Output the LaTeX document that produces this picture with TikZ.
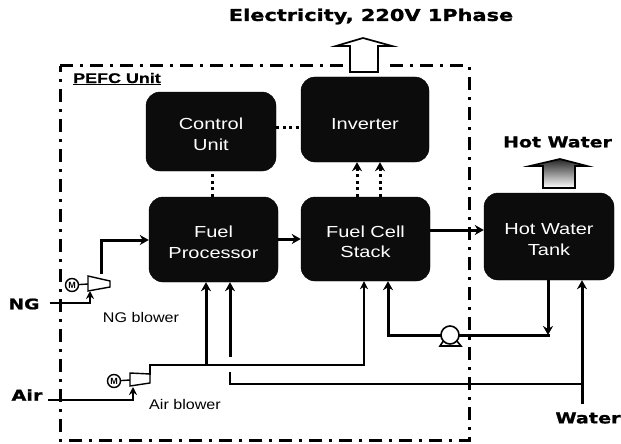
\documentclass[tikz,border=0pt]{standalone}
\usepackage{fontspec}
\setmainfont{Liberation Sans}
\newfontfamily\heavyfont[FakeStretch=1.28,FakeBold=1.2]{DejaVu Sans Bold}
\newfontfamily\pefcfont[FakeStretch=1.28,FakeBold=0.8]{Liberation Sans Bold}
\newfontfamily\boxfont[FakeStretch=1.25]{Liberation Sans}
\newfontfamily\labelfont[FakeStretch=1.15]{Liberation Sans}
\usetikzlibrary{arrows.meta}
\definecolor{boxblack}{HTML}{0C0C0C}
\tikzset{
  unitbox/.style={draw=black,fill=boxblack,rounded corners=14pt,text=white,align=center,inner sep=0pt,text height=38pt,font=\boxfont\fontsize{16}{20.5}\selectfont},
  flow/.style={line width=3pt,-{Stealth[length=9pt,width=10pt]},line join=miter},
  plainflow/.style={line width=3pt},
  thinflow/.style={line width=2.4pt,-{Stealth[length=8pt,width=8pt]}},
  signal/.style={line width=3pt,dash pattern=on 3pt off 3.5pt},
  signalarrow/.style={signal,-{Stealth[length=9pt,width=10pt]}},
  frameline/.style={line width=3pt,dash pattern=on 13pt off 7pt on 3pt off 7pt},
  heavy/.style={font=\heavyfont\fontsize{#1}{#1}\selectfont,inner sep=0pt},
  plain/.style={font=\labelfont\fontsize{14}{16}\selectfont,inner sep=0pt},
  blower/.style={draw=black,line width=1.4pt,fill=white,line join=miter},
  motor/.style={draw=black,line width=1.4pt,circle,fill=white,minimum size=13pt,inner sep=0pt,font=\bfseries\fontsize{9}{9}\selectfont},
  outarrow/.style={draw=black,line width=1.7pt,fill=white,line join=miter},
}
\begin{document}
\begin{tikzpicture}[x=1pt,y=-1pt]
\useasboundingbox (0,0) rectangle (621,444);
% frame
\coordinate (f1) at (60,66); \coordinate (f2) at (469,66);
\coordinate (f3) at (469,440); \coordinate (f4) at (60,440);
\draw[frameline] (f1) -- (f2) -- (f3) -- (f4) -- cycle;
% boxes
\node[unitbox,minimum width=130pt,minimum height=79pt] (control) at (211,131.5) {Control\\Unit};
\node[unitbox,text height=20pt,minimum width=128pt,minimum height=85pt] (inverter) at (365,119.5) {Inverter};
\node[unitbox,minimum width=129pt,minimum height=85pt] (fp) at (213.5,239.5) {Fuel\\Processor};
\node[unitbox,minimum width=129pt,minimum height=84pt] (stack) at (365.5,239) {Fuel Cell\\Stack};
\node[unitbox,minimum width=130pt,minimum height=87pt] (tank) at (549,236.5) {Hot Water\\Tank};
% output arrows
\fill[white] (343,60) rectangle (386,72);
\draw[outarrow] (350,72) -- (350,46) -- (336,46) -- (363,38) -- (392,46) -- (378,46) -- (378,72) -- cycle;
\draw[outarrow,top color=black!85,bottom color=white] (543,188) -- (543,166) -- (530,166) -- (560,159) -- (587,166) -- (575,166) -- (575,188) -- cycle;
% dotted signals
\draw[signal] (fp.north -| 212,0) -- (control.south -| 212,0);
\draw[signal] (control.east |- 0,127) -- (inverter.west |- 0,127);
\draw[signalarrow] (stack.north -| 357,0) -- (inverter.south -| 357,0);
\draw[signalarrow] (stack.north -| 380,0) -- (inverter.south -| 380,0);
% main flows
\draw[flow] (fp.east |- 0,239) -- (stack.west |- 0,239);
\draw[flow] (stack.east |- 0,230) -- (tank.west |- 0,230);
% blowers
\node[motor] (ngm) at (72,285) {M};
\node[motor] (airm) at (114,381) {M};
\coordinate (ngb) at (88,284); \coordinate (airb) at (130,380);
\draw[line width=1.4pt] (ngm) -- (ngb);
\draw[line width=1.4pt] (airm) -- (airb);
\draw[blower] (88,276) -- (110,281) -- (110,287) -- (88,291) -- cycle;
\draw[blower] (130,373) -- (150,374) -- (150,383) -- (130,386) -- cycle;
% NG line
\coordinate (ngin) at (50,303);
\coordinate (ngout) at (90,291);
\draw[thinflow] (ngin) -- (90,303) -- (ngout);
\coordinate (ngup) at (101,274);
\draw[flow] (ngup) -- (101,240) -- (fp.west |- 0,240);
% Air lines
\coordinate (airin) at (48,400);
\coordinate (airout) at (133,387);
\coordinate (ajoin) at (206,365);
\draw[thinflow] (airin) -- (133,400) -- (airout);
\draw[line width=2.4pt] (150,375) -- (150,365) -- (ajoin);
\draw[flow] (ajoin) -- (fp.south -| 206,0);
\draw[thinflow] (ajoin) -- (364,365) -- (stack.south -| 364,0);
% Water lines
\coordinate (wsrc) at (582,404);
\coordinate (wjoin) at (582,384);
\draw[flow] (wsrc) -- (tank.south -| 582,0);
\draw[line width=2.4pt] (wjoin) -- (230,384) -- (230,372);
\draw[flow] (230,357) -- (fp.south -| 230,0);
% Recirculation with pump
\coordinate (rc) at (550,335);
\draw[flow] (tank.south -| 548,0) -- (548,335);
\draw[plainflow] (rc) -- (459,335);
\draw[flow] (441,335) -- (388,335) -- (stack.south -| 388,0);
\draw[line width=1.6pt,fill=white] (440,346) -- (444,340) -- (456,340) -- (461,346) -- cycle;
\node[draw=black,line width=1.6pt,circle,fill=white,minimum size=18pt,inner sep=0pt] (pump) at (450,335) {};
% labels
\node[heavy=16.3] (elec) at (371,16.5) {Electricity, 220V 1Phase};
\node[heavy=14.8] (hw) at (557.5,142) {Hot Water};
\node[heavy=14.5] (ng) at (24,304) {NG};
\node[heavy=15] (air) at (27,395) {Air};
\node[heavy=15] (water) at (588,418) {Water};
\node[font=\pefcfont\fontsize{14}{15}\selectfont,inner sep=0pt,anchor=west] (pefc) at (73,79) {\underline{PEFC Unit}};
\node[plain] (ngl) at (141,317) {NG blower};
\node[plain] (airl) at (185,404) {Air blower};
\end{tikzpicture}
\end{document}
